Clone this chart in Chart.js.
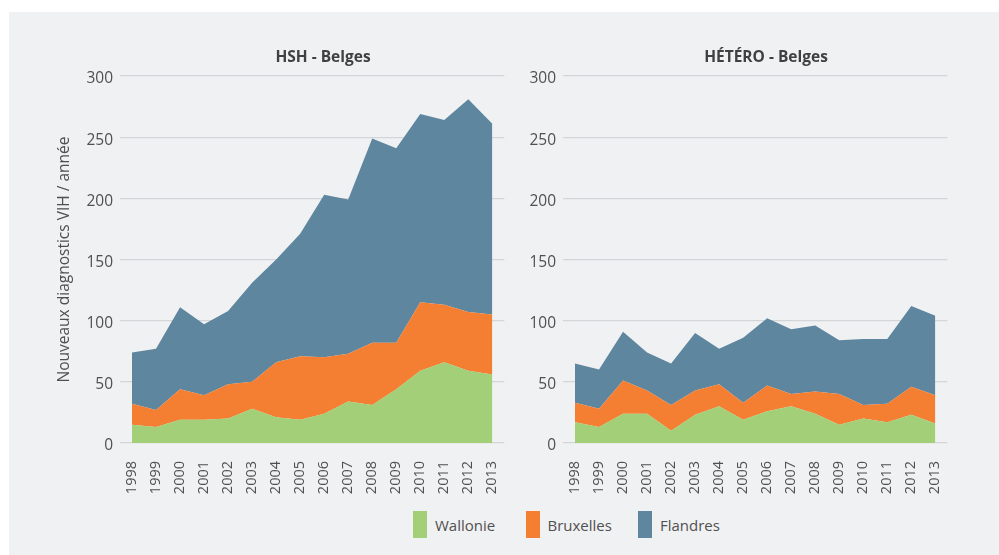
<!DOCTYPE html>
<html lang="fr">
<head>
<meta charset="utf-8">
<title>Nouveaux diagnostics VIH - Belges</title>
<script src="https://cdn.jsdelivr.net/npm/chart.js@4/dist/chart.umd.min.js"></script>
<style>
  body { margin: 0; background: #ffffff; }
  #fond {
    position: absolute; left: 9px; top: 12px; width: 990px; height: 543px;
    background: #f0f1f3;
  }
  .graphe { position: absolute; top: 0; width: 520px; height: 500px; }
  .titre {
    position: absolute; top: 45px; width: 300px; text-align: center;
    font: bold 15.5px "Open Sans", sans-serif; color: #404040;
  }
  #legende {
    position: absolute; left: 413px; top: 511px; display: flex;
    font: 15px "Open Sans", sans-serif; color: #505050;
  }
  .item { display: flex; align-items: center; width: 112.5px; }
  .carre { width: 14px; height: 27px; margin-right: 8px; }
</style>
</head>
<body>
<div id="fond"></div>
<div class="graphe" style="left:0"><canvas id="grapheHSH"></canvas></div>
<div class="graphe" style="left:443px"><canvas id="grapheHetero"></canvas></div>
<div class="titre" id="titreHSH" style="left:173px"></div>
<div class="titre" id="titreHetero" style="left:616px"></div>
<div id="legende"></div>

<script>
// Données
const annees = ["1998", "1999", "2000", "2001", "2002", "2003", "2004", "2005",
  "2006", "2007", "2008", "2009", "2010", "2011", "2012", "2013"];

const regions = ["Wallonie", "Bruxelles", "Flandres"];
const couleurs = ["#a2cf77", "#f47e31", "#5e869f"];

const hshWallonie = [15, 13, 19, 19, 20, 28, 21, 19, 24, 34, 31, 44, 59, 66, 59, 56];
const hshBruxelles = [17, 14, 25, 20, 28, 22, 45, 52, 46, 39, 51, 38, 56, 47, 48, 49];
const hshFlandres = [42, 50, 67, 58, 60, 81, 84, 100, 133, 126, 167, 159, 154, 151, 174, 156];

const heteroWallonie = [17, 13, 24, 24, 10, 23, 30, 19, 26, 30, 24, 15, 20, 17, 23, 16];
const heteroBruxelles = [16, 15, 27, 19, 21, 20, 18, 14, 21, 10, 18, 25, 11, 15, 23, 23];
const heteroFlandres = [32, 32, 40, 31, 34, 47, 29, 53, 55, 53, 54, 44, 54, 53, 66, 65];

const titreAxeY = "Nouveaux diagnostics VIH / année";
const police = "'Open Sans', sans-serif";

document.getElementById("titreHSH").textContent = "HSH - Belges";
document.getElementById("titreHetero").textContent = "HÉTÉRO - Belges";

/* LÉGENDE */
const legende = document.getElementById("legende");
regions.forEach((nom, i) => {
  const item = document.createElement("div");
  item.className = "item";
  item.innerHTML = '<span class="carre" style="background:' + couleurs[i] + '"></span>' + nom;
  legende.appendChild(item);
});

/* GRAPHIQUE EMPILÉ */
function graphe(id, series, avecTitreY) {

  const datasets = series.map((valeurs, i) => ({
    label: regions[i],
    data: valeurs,
    backgroundColor: couleurs[i],
    borderWidth: 0,
    pointRadius: 0,
    fill: i === 0 ? "origin" : "-1"
  }));

  new Chart(document.getElementById(id), {
    type: "line",
    data: { labels: annees, datasets: datasets },
    options: {
      responsive: true,
      maintainAspectRatio: false,
      animation: false,
      layout: { padding: { top: 76, right: 9, left: 40, bottom: 0 } },
      plugins: {
        legend: { display: false },
        tooltip: { enabled: false }
      },
      scales: {
        x: {
          offset: true,
          grid: { display: false },
          border: { display: false },
          ticks: {
            color: "#505050",
            font: { family: police, size: 14.5 },
            minRotation: 90,
            maxRotation: 90,
            padding: 10,
            autoSkip: false
          },
          afterFit: (axe) => { axe.height = 57; }
        },
        y: {
          stacked: true,
          min: 0,
          max: 300,
          border: { display: false },
          grid: { color: "#d3d5d8", lineWidth: 1.2, drawTicks: false },
          ticks: {
            stepSize: 50,
            color: "#505050",
            font: { family: police, size: 15.5 },
            padding: 7,
            labelOffset: 3
          },
          title: {
            display: avecTitreY,
            text: titreAxeY,
            color: "#505050",
            font: { family: police, size: 15.5 },
            padding: { top: 15, bottom: 0 }
          },
          afterFit: (axe) => { axe.width = 80; }
        }
      }
    }
  });
}

graphe("grapheHSH", [hshWallonie, hshBruxelles, hshFlandres], true);
graphe("grapheHetero", [heteroWallonie, heteroBruxelles, heteroFlandres], false);
</script>
</body>
</html>
